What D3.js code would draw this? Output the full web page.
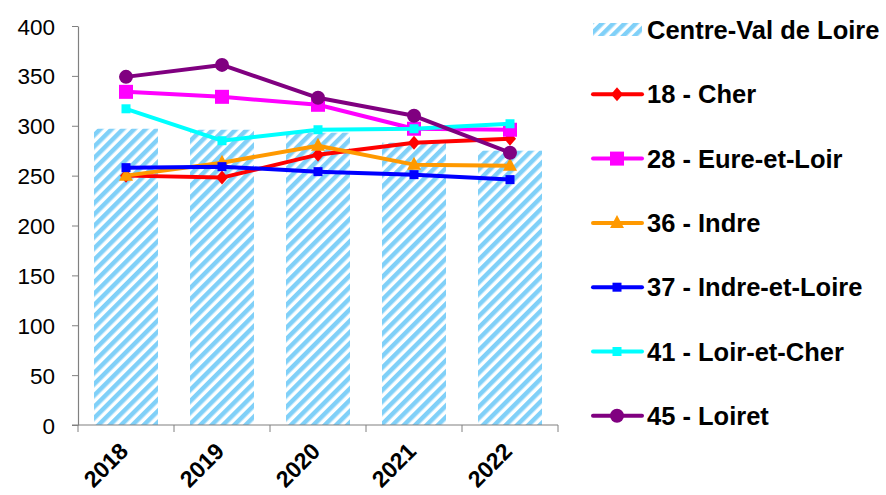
<!DOCTYPE html>
<html>
<head>
<meta charset="utf-8">
<script src="https://cdn.jsdelivr.net/npm/d3@7/dist/d3.min.js"></script>
<style>
  html, body { margin: 0; padding: 0; background: #fff; }
  svg { display: block; font-family: "Liberation Sans", Arial, sans-serif; }
</style>
</head>
<body>
<svg id="chart" width="886" height="495"></svg>
<script>
// Years on the category axis
const years = ["2018", "2019", "2020", "2021", "2022"];

// Regional total (bars)
const regionName = "Centre-Val de Loire";
const regionValues = [297, 296, 293, 283, 275];

// Departments (lines)
const deptNames = ["18 - Cher", "28 - Eure-et-Loir", "36 - Indre", "37 - Indre-et-Loire", "41 - Loir-et-Cher", "45 - Loiret"];
const cherValues = [250, 248, 271, 283, 287];
const eureEtLoirValues = [334, 329, 321, 297, 296];
const indreValues = [250, 263, 280, 261, 260];
const indreEtLoireValues = [258, 259, 254, 251, 246];
const loirEtCherValues = [317, 285, 296, 297, 302];
const loiretValues = [349, 361, 328, 310, 273];

const yTicks = [0, 50, 100, 150, 200, 250, 300, 350, 400];

const deptColors = ["#ff0000", "#ff00ff", "#ff9900", "#0000ff", "#00ffff", "#800080"];
const deptSymbols = ["diamond", "bigSquare", "triangle", "smallSquare", "smallSquare", "circle"];
const deptSeries = [cherValues, eureEtLoirValues, indreValues, indreEtLoireValues, loirEtCherValues, loiretValues];

const svg = d3.select("#chart");

// Diagonal hatch used by the regional bars
const defs = svg.append("defs");
const pat = defs.append("pattern")
  .attr("id", "hatch")
  .attr("patternUnits", "userSpaceOnUse")
  .attr("width", 8).attr("height", 8)
  .attr("patternTransform", "rotate(45)");
pat.append("rect").attr("width", 8).attr("height", 8).attr("fill", "#ffffff");
pat.append("rect").attr("x", 0).attr("width", 4.5).attr("height", 8).attr("fill", "#80d0f8");

const plot = { left: 78, right: 558, top: 26, bottom: 425 };

const x = d3.scaleBand().domain(years).range([plot.left, plot.right]).paddingInner(1/3).paddingOuter(1/6);
const xPoint = d => x(d) + x.bandwidth() / 2;
const y = d3.scaleLinear().domain([0, 400]).range([plot.bottom, plot.top]);

// Bars
svg.append("g").selectAll("rect")
  .data(years)
  .join("rect")
  .attr("x", d => x(d))
  .attr("width", x.bandwidth())
  .attr("y", (d, i) => y(regionValues[i]))
  .attr("height", (d, i) => y(0) - y(regionValues[i]))
  .attr("fill", "url(#hatch)");

// Y axis
const yAxis = svg.append("g")
  .attr("transform", `translate(${plot.left},0)`)
  .call(d3.axisLeft(y).tickValues(yTicks).tickSize(6).tickSizeOuter(0));
yAxis.select(".domain").attr("stroke", "#808080").attr("stroke-width", 1.2);
yAxis.selectAll(".tick line").attr("stroke", "#808080");
yAxis.selectAll(".tick text")
  .attr("x", -23)
  .attr("dy", "0.36em")
  .attr("fill", "#000")
  .style("font-size", "22.5px");

// X axis with ticks on band boundaries
const xAxisG = svg.append("g").attr("transform", `translate(0,${plot.bottom})`);
xAxisG.append("line")
  .attr("x1", plot.left - 6).attr("x2", plot.right)
  .attr("stroke", "#808080").attr("stroke-width", 1.2);
const bounds = years.map(d => x(d) - x.step() * x.paddingInner() / 2).concat([plot.right]);
xAxisG.selectAll(".bt")
  .data(bounds)
  .join("line")
  .attr("x1", d => d).attr("x2", d => d)
  .attr("y1", 0).attr("y2", 7)
  .attr("stroke", "#808080");
xAxisG.selectAll(".yl")
  .data(years)
  .join("text")
  .attr("transform", d => `translate(${xPoint(d) - 2},${22}) rotate(-45)`)
  .attr("text-anchor", "end")
  .attr("dominant-baseline", "central")
  .style("font-size", "23px")
  .style("font-weight", "bold")
  .text(d => d);

// Marker drawing
function drawMarker(g, type, color) {
  if (type === "circle") {
    g.append("circle").attr("r", 7).attr("fill", color);
  } else if (type === "bigSquare") {
    g.append("rect").attr("x", -7).attr("y", -7).attr("width", 14).attr("height", 14).attr("fill", color);
  } else if (type === "smallSquare") {
    g.append("rect").attr("x", -4.5).attr("y", -4.5).attr("width", 9).attr("height", 9).attr("fill", color);
  } else if (type === "diamond") {
    g.append("path").attr("d", "M0,-7L6,0L0,7L-6,0Z").attr("fill", color);
  } else if (type === "triangle") {
    g.append("path").attr("d", "M0,-8L7,5L-7,5Z").attr("fill", color);
  }
}

// Lines with markers
const line = d3.line().x((d, i) => xPoint(years[i])).y(d => y(d));
deptSeries.forEach((vals, k) => {
  const g = svg.append("g");
  g.append("path")
    .attr("d", line(vals))
    .attr("fill", "none")
    .attr("stroke", deptColors[k])
    .attr("stroke-width", 4)
    .attr("stroke-linejoin", "round");
  vals.forEach((v, i) => {
    const m = g.append("g").attr("transform", `translate(${xPoint(years[i])},${y(v)})`);
    drawMarker(m, deptSymbols[k], deptColors[k]);
  });
});

// Legend
const legend = svg.append("g");
const legY0 = 30, legStep = 64.3;
const legFont = "25.5px";
legend.append("rect")
  .attr("x", 593).attr("y", legY0 - 7).attr("width", 49).attr("height", 13)
  .attr("fill", "url(#hatch)");
legend.append("text")
  .attr("x", 647).attr("y", legY0)
  .attr("dy", "0.36em")
  .style("font-size", legFont).style("font-weight", "bold")
  .text(regionName);
deptNames.forEach((name, k) => {
  const yy = legY0 + legStep * (k + 1);
  legend.append("line")
    .attr("x1", 593).attr("x2", 642).attr("y1", yy).attr("y2", yy)
    .attr("stroke", deptColors[k]).attr("stroke-width", 4).attr("stroke-linecap", "round");
  const m = legend.append("g").attr("transform", `translate(617,${yy})`);
  drawMarker(m, deptSymbols[k], deptColors[k]);
  legend.append("text")
    .attr("x", 647).attr("y", yy)
    .attr("dy", "0.36em")
    .style("font-size", legFont).style("font-weight", "bold")
    .text(name);
});
</script>
</body>
</html>
